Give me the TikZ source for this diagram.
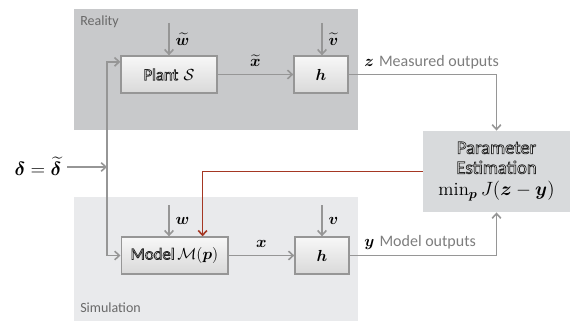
\documentclass[tikz,border=0pt]{standalone}
\usepackage{amsmath}
\usepackage{amssymb}
\usepackage{bm}
\usepackage{fontspec}
\setsansfont{Carlito}
\usetikzlibrary{arrows.meta, positioning, calc}
\definecolor{cReal}{RGB}{200,201,203}
\definecolor{cSim}{RGB}{233,234,236}
\definecolor{cEst}{RGB}{216,218,220}
\definecolor{cLine}{RGB}{150,150,150}
\definecolor{cFeed}{RGB}{165,55,35}
\definecolor{cLabel}{RGB}{105,105,105}
\definecolor{cText}{RGB}{125,125,125}
% white letters with a dark rim
\newcommand{\outlined}[1]{{\color{white}\special{pdf:literal direct 0.15 G 0.55 w 2 Tr}\sffamily #1\special{pdf:literal direct 0 Tr}}}
\tikzset{
	blk/.style   ={rectangle, draw=cLine, line width=1pt, top color=gray!6, bottom color=gray!30, minimum height=27.75pt, inner sep=1pt, align=center, font=\fontsize{12.5}{14}\selectfont},
	region/.style={anchor=west, inner sep=0pt, text=cLabel, font=\sffamily\fontsize{10.5}{12}\selectfont},
	outlbl/.style={anchor=west, inner sep=0pt},
	sig/.style   ={-{Straight Barb[length=3.5pt, width=6.5pt]}, draw=cLine, line width=1.2pt},
	feed/.style  ={-{Straight Barb[length=3.5pt, width=6.5pt]}, draw=cFeed, line width=1.2pt},
}

\begin{document}
\begin{tikzpicture}[x=0.75pt, y=-0.75pt, font=\fontsize{12}{14}\selectfont]
	\useasboundingbox (0,0) rectangle (570,321);
	% reality and simulation regions
	\fill[cReal] (74,9) rectangle (358,130);
	\fill[cSim] (74,197) rectangle (358,321);
	\node[region] (reality) at (80,22) {Reality};
	\node[region] (simulation) at (80,308) {Simulation};
	% blocks
	\node[blk, minimum width=72pt] (plant) at (169,74.5) {\outlined{Plant} $\mathcal{S}$};
	\node[blk, minimum width=40.5pt] (hreal) at (321,74.5) {$\bm h$};
	\node[blk, minimum width=80pt] (model) at (174.5,255.5) {\outlined{Model}$\,\mathcal{M}(\bm p)$};
	\node[blk, minimum width=40.5pt] (hsim) at (322,255.5) {$\bm h$};
	\node[rectangle, fill=cEst, minimum width=110pt, minimum height=61pt, align=center, inner sep=0pt,
		font=\fontsize{14}{15}\selectfont] (est) at (496.5,171.5)
		{\outlined{Parameter}\\ \outlined{Estimation}\\[1.5pt] $\min_{\bm p} J(\bm z - \bm y)$};
	% inputs and noise
	\node[inner sep=1pt, anchor=east, font=\fontsize{14}{16}\selectfont] (delta) at (63,166) {$\bm\delta = \widetilde{\bm\delta}$};
	\coordinate (split) at (107,167);
	\coordinate (wtin) at (169,23);
	\coordinate (vtin) at (322,23);
	\coordinate (win) at (169,205);
	\coordinate (vin) at (322,205);
	\draw[sig] (delta.east |- split) ++(3pt,0) -- (split);
	\draw[sig] (split) |- ($(plant.north west)!0.17!(plant.south west)$);
	\draw[sig] (split) |- (model.west);
	\draw[sig] (wtin) -- (wtin |- plant.north) node[midway, right=1pt] {$\widetilde{\bm w}$};
	\draw[sig] (vtin) -- (vtin |- hreal.north) node[midway, right=1pt] {$\widetilde{\bm v}$};
	\draw[sig] (win) -- (win |- model.north) node[midway, right=1pt] {$\bm w$};
	\draw[sig] (vin) -- (vin |- hsim.north) node[midway, right=1pt] {$\bm v$};
	% states
	\draw[sig] (plant) -- (hreal) node[midway, above=2pt] {$\widetilde{\bm x}$};
	\draw[sig] (model) -- (hsim) node[midway, above=2pt] {$\bm x$};
	% outputs
	\draw[sig] (hreal.east) -| (est.north);
	\draw[sig] (hsim.east) -| (est.south);
	\node[outlbl] (zlbl) at (364,62) {$\bm z$ \textcolor{cText}{\sffamily Measured outputs}};
	\node[outlbl] (ylbl) at (364,242) {$\bm y$ \textcolor{cText}{\sffamily Model outputs}};
	% estimated parameters back to the model
	\draw[feed] (est.west) -| ($(model.north west)!0.76!(model.north east)$);
\end{tikzpicture}
\end{document}
